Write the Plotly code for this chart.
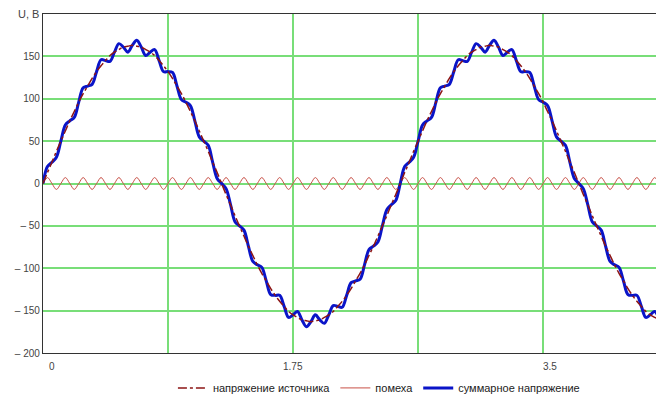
import plotly.graph_objects as go

# Sampling: one sample every quarter period of the interference (dt = 0.03125)
t_start = 0.0
t_step = 0.03125

# Source voltage, V (values at each sample)
source = [
    0, 13, 25, 38, 50, 62, 74, 85, 96, 106, 115, 124, 132, 139, 145, 151, 155, 158, 161, 162,
    163, 162, 161, 158, 155, 151, 145, 139, 132, 124, 115, 106, 96, 85, 74, 62, 50, 38, 25, 13,
    0, -13, -25, -38, -50, -62, -74, -85, -96, -106, -115, -124, -132, -139, -145, -151, -155, -158, -161, -162,
    -163, -162, -161, -158, -155, -151, -145, -139, -132, -124, -115, -106, -96, -85, -74, -62, -50, -38, -25, -13,
    0, 13, 25, 38, 50, 62, 74, 85, 96, 106, 115, 124, 132, 139, 145, 151, 155, 158, 161, 162,
    163, 162, 161, 158, 155, 151, 145, 139, 132, 124, 115, 106, 96, 85, 74, 62, 50, 38, 25, 13,
    0, -13, -25, -38, -50, -62, -74, -85, -96, -106, -115, -124, -132, -139, -145, -151, -155, -158, -161,
]

# Interference (помеха), V
noise = [
    0, 7, 0, -7, 0, 7, 0, -7, 0, 7, 0, -7, 0, 7, 0, -7, 0, 7, 0, -7,
    0, 7, 0, -7, 0, 7, 0, -7, 0, 7, 0, -7, 0, 7, 0, -7, 0, 7, 0, -7,
    0, 7, 0, -7, 0, 7, 0, -7, 0, 7, 0, -7, 0, 7, 0, -7, 0, 7, 0, -7,
    0, 7, 0, -7, 0, 7, 0, -7, 0, 7, 0, -7, 0, 7, 0, -7, 0, 7, 0, -7,
    0, 7, 0, -7, 0, 7, 0, -7, 0, 7, 0, -7, 0, 7, 0, -7, 0, 7, 0, -7,
    0, 7, 0, -7, 0, 7, 0, -7, 0, 7, 0, -7, 0, 7, 0, -7, 0, 7, 0, -7,
    0, 7, 0, -7, 0, 7, 0, -7, 0, 7, 0, -7, 0, 7, 0, -7, 0, 7, 0,
]

# Total voltage = source + interference
total = [u + n for u, n in zip(source, noise)]

y_ticks = [-200, -150, -100, -50, 0, 50, 100, 150]
y_tick_text = ["– 200", "– 150", "– 100", "– 50", "0", "50", "100", "150"]
x_labels = [0, 1.75, 3.5]
x_label_text = ["0", "1.75", "3.5"]
x_label_shift = [9, 0, 7]

font_family = "Liberation Sans, Arial, sans-serif"
grid_green = "rgb(120,222,120)"

fig = go.Figure()

fig.add_trace(go.Scatter(
    x0=t_start, dx=t_step, y=noise, mode="lines", name="помеха",
    line=dict(color="rgb(200,80,70)", width=1, shape="spline", smoothing=1),
    legendrank=2,
))
fig.add_trace(go.Scatter(
    x0=t_start, dx=t_step, y=total, mode="lines", name="суммарное напряжение",
    line=dict(color="rgb(10,20,200)", width=3, shape="spline", smoothing=1),
    legendrank=3,
))
fig.add_trace(go.Scatter(
    x0=t_start, dx=t_step, y=source, mode="lines", name="напряжение источника",
    line=dict(color="rgb(140,20,20)", width=1.5, dash="dashdot", shape="spline", smoothing=1),
    legendrank=1,
))

annotations = [
    dict(text="U, B", x=0, y=200, xref="x", yref="y", xanchor="right", yanchor="middle",
         xshift=-2, showarrow=False, font=dict(family=font_family, size=11, color="#444")),
]
for v, txt, sh in zip(x_labels, x_label_text, x_label_shift):
    annotations.append(dict(
        text=txt, x=v, y=0, xref="x", yref="paper", yanchor="top", xanchor="center",
        yshift=-6, xshift=sh, showarrow=False,
        font=dict(family=font_family, size=10, color="#444"),
    ))

fig.update_layout(
    width=656, height=394,
    margin=dict(l=43, r=0, t=14, b=41, autoexpand=False),
    paper_bgcolor="white", plot_bgcolor="white",
    font=dict(family=font_family, size=10, color="#444"),
    showlegend=True,
    legend=dict(
        orientation="h", x=0.548, xanchor="center", y=-0.103, yanchor="middle",
        font=dict(family=font_family, size=11, color="#222"),
        bgcolor="rgba(0,0,0,0)", itemwidth=30, tracegroupgap=0,
    ),
    annotations=annotations,
)

fig.update_xaxes(
    range=[0, 4.29], dtick=0.875, tick0=0,
    showgrid=True, gridcolor=grid_green, gridwidth=1.5,
    zeroline=False, showticklabels=False, ticks="",
    showline=True, linecolor="#333", linewidth=1.2, mirror=True,
)
fig.update_yaxes(
    range=[-200, 200], tickvals=y_ticks, ticktext=y_tick_text,
    showgrid=True, gridcolor=grid_green, gridwidth=1.5,
    zeroline=False, ticks="",
    showline=True, linecolor="#333", linewidth=1.2, mirror=False,
    tickfont=dict(family=font_family, size=10, color="#444"),
)

fig.write_html("out.html")
